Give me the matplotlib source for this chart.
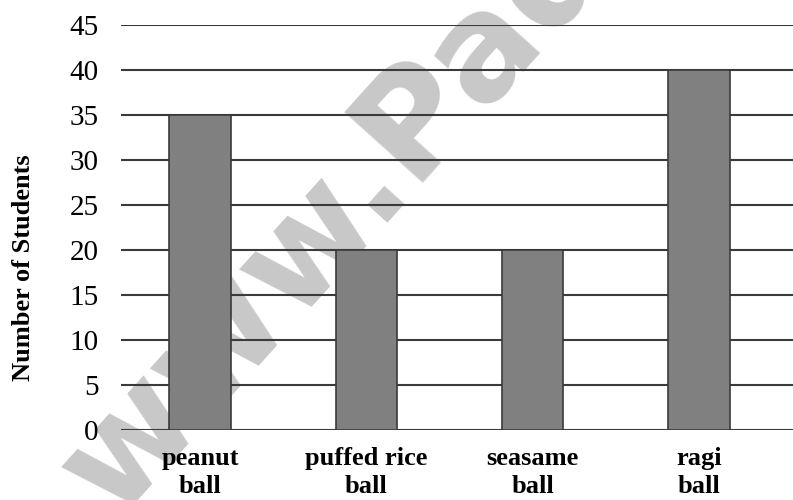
import numpy as np
import matplotlib.pyplot as plt

categories = ['peanut\nball', 'puffed rice\nball', 'seasame\nball', 'ragi\nball']
students = [35, 20, 20, 40]
y_ticks = list(range(0, 50, 5))

plt.rcParams['font.family'] = ['Liberation Serif', 'DejaVu Serif']

fig = plt.figure(figsize=(7.93, 5.0), dpi=100)
ax = fig.add_axes([121 / 793, 70 / 500, 672 / 793, 405 / 500])

x = np.arange(len(categories))
ax.bar(x, students, width=0.37, color='#808080', edgecolor='#3a3a3a',
       linewidth=1.2, zorder=3)

ax.set_xlim(-0.476, 3.566)
ax.set_ylim(0, 45)
ax.set_yticks(y_ticks)
ax.yaxis.grid(True, color='#3a3a3a', linewidth=1.5, zorder=1)
ax.set_axisbelow(True)
for s in ax.spines.values():
    s.set_visible(False)

ax.tick_params(axis='y', length=0, pad=16, labelsize=21)
ax.tick_params(axis='x', length=0, pad=12)
ax.set_xticks(x)
ax.set_xticklabels(categories, fontsize=19, fontweight='bold', linespacing=1.3)

ax.set_ylabel('Number of Students', fontsize=19, fontweight='bold')
ax.yaxis.set_label_coords(-0.128, 0.4)

# watermark from the source image
ax.text(115 / 793, -20 / 500, 'www.Padasalai.Net', transform=fig.transFigure,
        fontsize=104, fontweight='bold', family='DejaVu Sans', color='#c8c8c8',
        rotation=48, rotation_mode='anchor', ha='left', va='baseline', zorder=0)

fig.savefig('out.png', dpi=100)
